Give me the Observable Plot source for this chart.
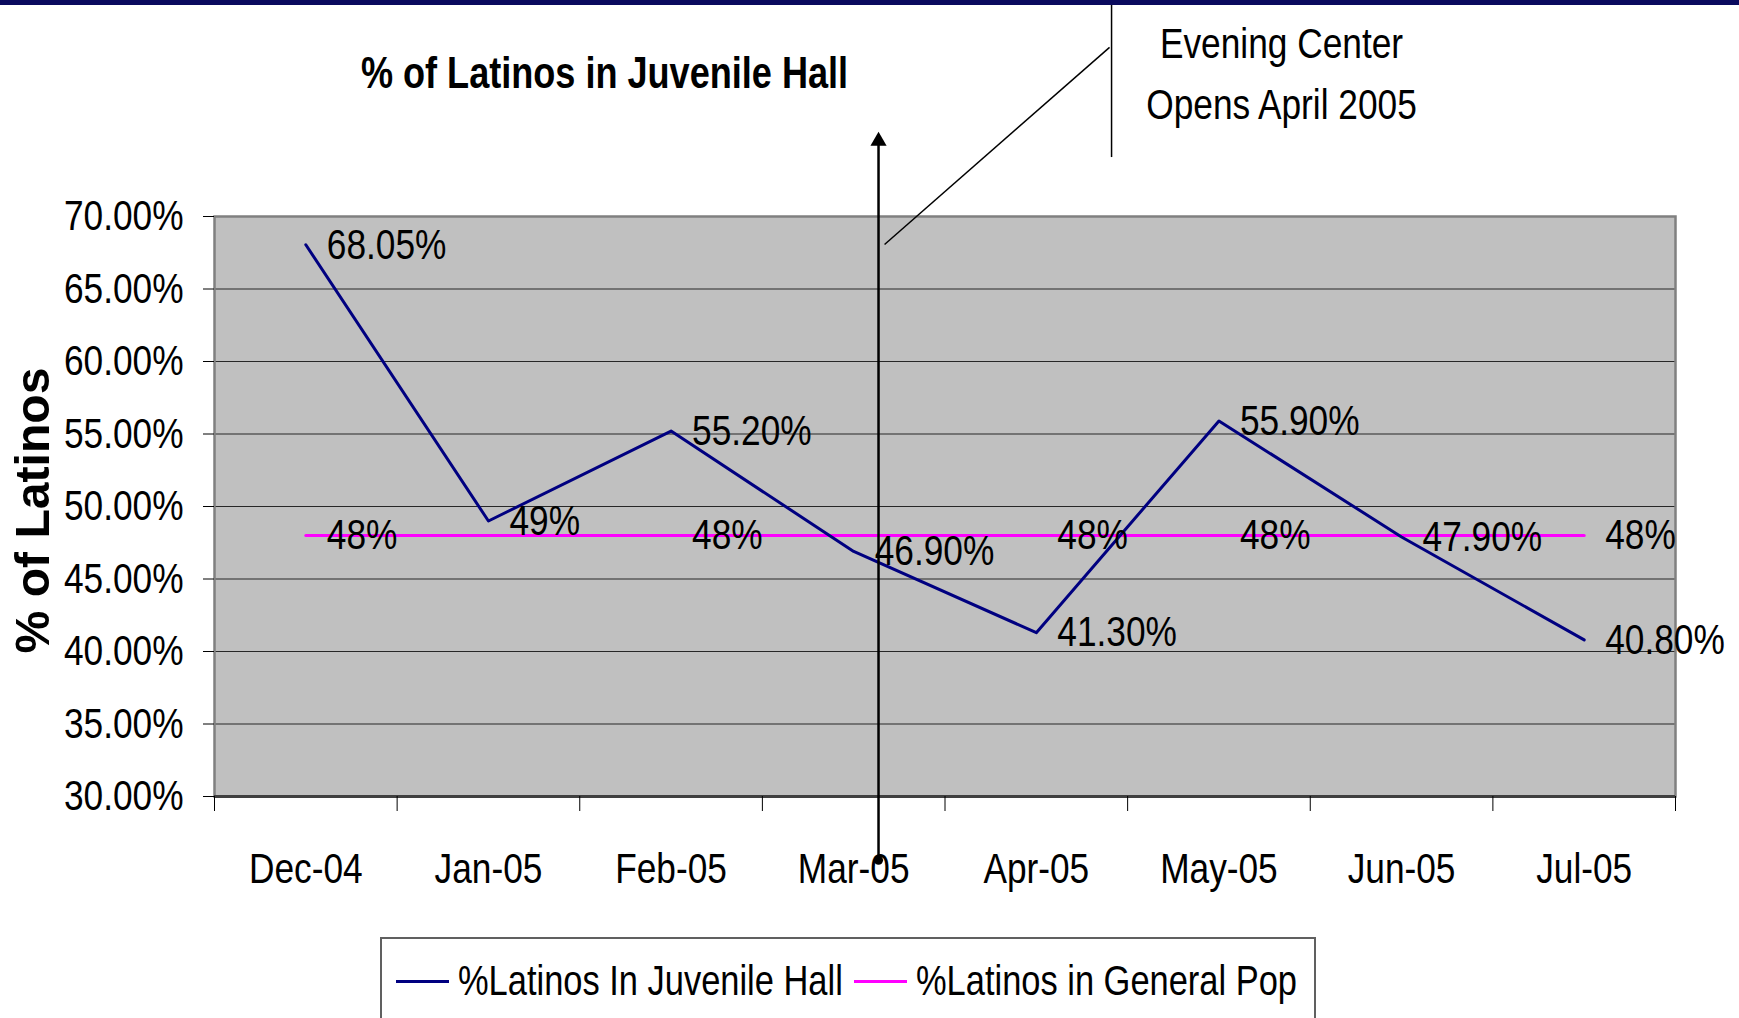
<!DOCTYPE html>
<html>
<head>
<meta charset="utf-8">
<script src="https://cdn.jsdelivr.net/npm/d3@7"></script>
<script src="https://cdn.jsdelivr.net/npm/@observablehq/plot@0.6"></script>
<style>
  html, body { margin: 0; padding: 0; background: #fff; }
  #page { position: relative; width: 1739px; height: 1018px; overflow: hidden; background: #fff;
          font-family: "Liberation Sans", Arial, sans-serif; }
  #band { position: absolute; left: 0; top: 0; width: 1739px; height: 5px; background: #0a0a5e; }
  #chart { position: absolute; left: 0; top: 0; }
  #legend { position: absolute; left: 380px; top: 937px; width: 936px; height: 120px;
            border: 2px solid #606060; background: #fff; box-sizing: border-box; }
  .item { position: absolute; top: 18px; display: flex; align-items: center; font-size: 42px; color: #000; white-space: nowrap; }
  .swatch { display: inline-block; width: 53px; height: 3px; margin-right: 9px; flex: none; }
  .label { display: inline-block; transform: scaleX(0.82); transform-origin: left center; }
</style>
</head>
<body>
<div id="page">
  <div id="chart"></div>
  <div id="band"></div>
  <div id="legend"></div>
</div>
<script>
// ---- data ----
const months = ["Dec-04", "Jan-05", "Feb-05", "Mar-05", "Apr-05", "May-05", "Jun-05", "Jul-05"];
const juvenile = [68.05, 49, 55.2, 46.9, 41.3, 55.9, 47.9, 40.8];
const juvenileLabels = ["68.05%", "49%", "55.20%", "46.90%", "41.30%", "55.90%", "47.90%", "40.80%"];
const generalPop = [48, 48, 48, 48, 48, 48, 48, 48];
const generalLabels = ["48%", "", "48%", "", "48%", "48%", "", "48%"];
const yTicks = [30, 35, 40, 45, 50, 55, 60, 65, 70];
const seriesNames = ["%Latinos In Juvenile Hall", "%Latinos in General Pop"];
const seriesColors = ["#000080", "#ff00ff"];
const titleText = "% of Latinos in Juvenile Hall";
const yTitle = "% of Latinos";
const calloutLines = ["Evening Center", "Opens April 2005"];
// annotation anchored in data units (x: month index, y: percent)
const eventArrow = {x: 3.136, yFrom: 25.6, yTo: 75.2};
const calloutLeader = {x1: 3.169, y1: 68.07, x2: 4.401, y2: 81.66};
const calloutBar = {x: 4.412, y1: 84.9, y2: 74.1};

const rows = months.map((m, i) => ({i, month: m, juvenile: juvenile[i], jl: juvenileLabels[i], general: generalPop[i], gl: generalLabels[i]}));
const idx = months.map((m, i) => i);
const bounds = d3.range(-0.5, months.length, 1);

const FONT = '"Liberation Sans", Arial, sans-serif';
const CONDENSE = 0.82;
const W = 1739, H = 937;
const mL = 214, mR = 64, mT = 216, mB = 141;

const chart = Plot.plot({
  width: W, height: H,
  marginLeft: mL, marginRight: mR, marginTop: mT, marginBottom: mB,
  style: {fontFamily: FONT, fontSize: "43px", color: "#000", background: "transparent", overflow: "visible"},
  x: {type: "linear", domain: [-0.5, months.length - 0.5]},
  y: {type: "linear", domain: [30, 70]},
  marks: [
    Plot.frame({fill: "#c0c0c0"}),
    Plot.gridY({ticks: yTicks.slice(1, -1), stroke: "#000", strokeOpacity: 0.8, strokeWidth: 1}),
    Plot.frame({stroke: "#808080", strokeWidth: 2.5}),
    Plot.ruleY([30], {stroke: "#404040", strokeWidth: 3}),
    Plot.axisY({ticks: yTicks, tickFormat: d => d.toFixed(2) + "%", tickSize: 11, tickPadding: 20, fontSize: 43, label: null}),
    Plot.axisX({ticks: bounds, tickFormat: () => "", tickSize: 15, label: null}),
    Plot.axisX({ticks: idx, tickFormat: i => months[i], tickSize: 0, tickPadding: 56, fontSize: 43, label: null}),
    Plot.text([yTitle], {frameAnchor: "left", dx: -181, dy: 4, rotate: -90, textAnchor: "middle", lineAnchor: "middle",
      fontWeight: "bold", fontSize: 48, letterSpacing: 6, text: d => d, fill: "#000"}),
    Plot.text([titleText], {frameAnchor: "top-left", dx: 390, dy: -143, textAnchor: "middle", lineAnchor: "middle",
      fontWeight: "bold", fontSize: 44, text: d => d, fill: "#000"}),
    Plot.line(rows, {x: "i", y: "general", stroke: seriesColors[1], strokeWidth: 3}),
    Plot.line(rows, {x: "i", y: "juvenile", stroke: seriesColors[0], strokeWidth: 3}),
    Plot.text(rows.filter(d => d.gl), {x: "i", y: "general", text: "gl", textAnchor: "start", dx: 21, fontSize: 43, fill: "#000"}),
    Plot.text(rows, {x: "i", y: "juvenile", text: "jl", textAnchor: "start", dx: 21, fontSize: 43, fill: "#000"}),
    // event annotation
    Plot.link([eventArrow], {x1: "x", y1: "yFrom", x2: "x", y2: "yTo", stroke: "#000", strokeWidth: 2.5}),
    Plot.dot([eventArrow], {x: "x", y: "yTo", r: 6, symbol: "triangle", fill: "#000", stroke: "none"}),
    Plot.dot([eventArrow], {x: "x", y: "yFrom", r: 4.5, fill: "#000", stroke: "none"}),
    Plot.link([calloutLeader], {x1: "x1", y1: "y1", x2: "x2", y2: "y2", stroke: "#000", strokeWidth: 1.5}),
    Plot.link([calloutBar], {x1: "x", y1: "y1", x2: "x", y2: "y2", stroke: "#000", strokeWidth: 1.5}),
    Plot.text([calloutLines[0]], {frameAnchor: "top-left", dx: 1067, dy: -172, textAnchor: "middle", lineAnchor: "middle", fontSize: 43, text: d => d, fill: "#000"}),
    Plot.text([calloutLines[1]], {frameAnchor: "top-left", dx: 1067, dy: -111, textAnchor: "middle", lineAnchor: "middle", fontSize: 43, text: d => d, fill: "#000"})
  ]
});
document.getElementById("chart").appendChild(chart);

// condense glyphs horizontally (the original uses a narrow face)
chart.querySelectorAll("text").forEach(t => {
  const spans = t.querySelectorAll("tspan");
  const targets = spans.length ? Array.from(spans) : [t];
  targets.forEach(el => {
    const len = el.getComputedTextLength();
    if (len > 0) {
      const target = el.textContent === yTitle ? 286 : len * CONDENSE;
      el.setAttribute("textLength", target.toFixed(1));
      el.setAttribute("lengthAdjust", "spacingAndGlyphs");
    }
  });
});

// legend
const legend = document.getElementById("legend");
const lefts = [14, 472];
seriesNames.forEach((name, k) => {
  const item = document.createElement("div");
  item.className = "item";
  item.style.left = lefts[k] + "px";
  const sw = document.createElement("span");
  sw.className = "swatch";
  sw.style.background = seriesColors[k];
  const tx = document.createElement("span");
  tx.className = "label";
  tx.textContent = name;
  item.appendChild(sw);
  item.appendChild(tx);
  legend.appendChild(item);
});
</script>
</body>
</html>
